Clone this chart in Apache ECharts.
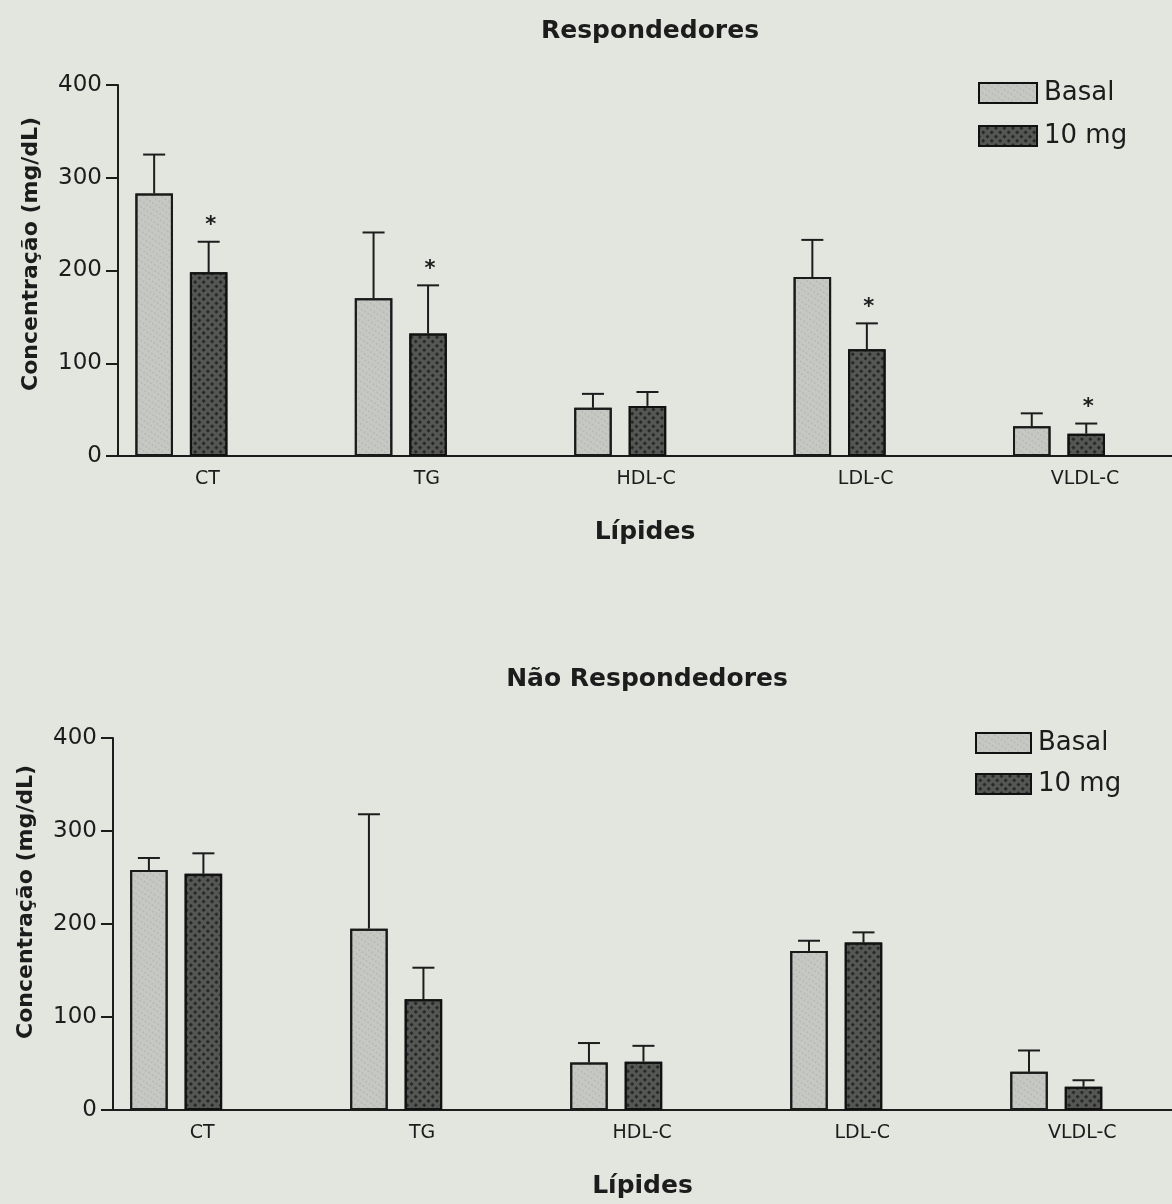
<!DOCTYPE html>
<html>
<head>
<meta charset="utf-8">
<script src="https://cdn.jsdelivr.net/npm/echarts@6/dist/echarts.min.js"></script>
<style>
html,body{margin:0;padding:0;background:#e3e5df;}
#chart{width:1172px;height:1204px;}
</style>
</head>
<body>
<div id="chart"></div>
<script>
// ---- data ----
const categories = ['CT', 'TG', 'HDL-C', 'LDL-C', 'VLDL-C'];
const seriesNames = ['Basal', '10 mg'];
const yTicks = [0, 100, 200, 300, 400];

// Respondedores
const respBasal = [283, 170, 52, 193, 32];
const respBasalSD = [42, 71, 15, 40, 14];
const resp10 = [198, 132, 54, 115, 24];
const resp10SD = [33, 52, 15, 28, 11];
const respSig10 = ['*', '*', '', '*', '*'];

// Não Respondedores
const naoBasal = [258, 195, 51, 171, 41];
const naoBasalSD = [13, 123, 21, 11, 23];
const nao10 = [254, 119, 52, 180, 25];
const nao10SD = [22, 34, 17, 11, 7];
const naoSig10 = ['', '', '', '', ''];

// ---- style ----
const FONT = 'DejaVu Sans';
const INK = '#1c1c1c';
const BAR_W = 37.5;
const GAP_PX = 17;
const HALF = (BAR_W + GAP_PX) / 2;

const basalStyle = {
  color: '#c6c8c3', borderColor: '#1a1a1a', borderWidth: 2,
  decal: { symbol: 'circle', symbolSize: 0.6, dashArrayX: [2, 2], dashArrayY: [2, 3], color: 'rgba(95,95,95,0.5)', rotation: 0.6 }
};
const tenStyle = {
  color: '#555754', borderColor: '#111', borderWidth: 2,
  decal: { symbol: 'rect', symbolSize: 0.9, dashArrayX: [3, 3], dashArrayY: [3, 3], color: 'rgba(20,20,20,0.8)', rotation: Math.PI / 4 }
};

function toPairs(vals) { return vals.map((v, i) => [i, v]); }
function toErr(vals, sd, sig) { return vals.map((v, i) => [i, v, v + sd[i], sig ? sig[i] : '']); }

function errSeries(name, gridIdx, vals, sd, sig, side) {
  return {
    type: 'custom', name: name + ' err', xAxisIndex: gridIdx, yAxisIndex: gridIdx,
    silent: true, z: 5,
    data: toErr(vals, sd, sig),
    renderItem: function (params, api) {
      const i = api.value(0);
      const p0 = api.coord([i, api.value(1)]);
      const p1 = api.coord([i, api.value(2)]);
      const cx = p0[0] + side * HALF;
      const children = [
        { type: 'line', shape: { x1: cx, y1: p0[1], x2: cx, y2: p1[1] }, style: { stroke: INK, lineWidth: 2 } },
        { type: 'line', shape: { x1: cx - 11, y1: p1[1], x2: cx + 11, y2: p1[1] }, style: { stroke: INK, lineWidth: 2 } }
      ];
      const s = api.value(3);
      if (s && s !== '-') {
        children.push({ type: 'text', style: { text: s, x: cx + 2, y: p1[1] - 16, align: 'center', verticalAlign: 'middle', font: 'bold 21px "' + FONT + '"', fill: INK } });
      }
      return { type: 'group', children: children };
    }
  };
}

function xAxisCfg(gridIdx, min, max) {
  return {
    gridIndex: gridIdx, type: 'value', min: min, max: max,
    name: 'Lípides', nameLocation: 'middle', nameGap: 64,
    nameTextStyle: { fontFamily: FONT, fontWeight: 'bold', fontSize: 25, color: INK },
    axisLine: { show: true, onZero: false, lineStyle: { color: INK, width: 2 } },
    axisTick: { show: false }, splitLine: { show: false },
    axisLabel: {
      customValues: categories.map((c, i) => i),
      formatter: v => categories[Math.round(v)] || '',
      fontFamily: FONT, fontSize: 19, color: INK, margin: 14, padding: [0, 0, 0, 52]
    }
  };
}
function yAxisCfg(gridIdx, namePad) {
  return {
    gridIndex: gridIdx, type: 'value', min: yTicks[0], max: yTicks[yTicks.length - 1], interval: 100,
    name: 'Concentração (mg/dL)', nameLocation: 'middle', nameGap: 76,
    nameTextStyle: { fontFamily: FONT, fontWeight: 'bold', fontSize: 22, color: INK, padding: [0, 0, 0, namePad] },
    axisLine: { show: true, onZero: false, lineStyle: { color: INK, width: 2 } },
    axisTick: { show: true, length: 12, lineStyle: { color: INK, width: 2 } },
    splitLine: { show: false },
    axisLabel: { fontFamily: FONT, fontSize: 23, color: INK, margin: 16 }
  };
}
function barSeries(name, gridIdx, vals, style) {
  return {
    type: 'bar', name: name, xAxisIndex: gridIdx, yAxisIndex: gridIdx,
    data: toPairs(vals), barWidth: BAR_W, barGap: (GAP_PX / BAR_W * 100).toFixed(1) + '%',
    itemStyle: style, silent: true, z: 3
  };
}

const legendText = { fontFamily: FONT, fontSize: 26, color: INK, padding: [0, 0, 0, 2] };
const option = {
  backgroundColor: '#e3e5df',
  animation: false,
  title: [
    { text: 'Respondedores', left: 645, top: 14, textAlign: 'center', textStyle: { fontFamily: FONT, fontWeight: 'bold', fontSize: 25, color: INK } },
    { text: 'Não Respondedores', left: 642, top: 662, textAlign: 'center', textStyle: { fontFamily: FONT, fontWeight: 'bold', fontSize: 25, color: INK } }
  ],
  legend: [
    { data: seriesNames.map(n => ({ name: n, icon: 'rect' })), orient: 'vertical', left: 973, top: 75, itemWidth: 58, itemHeight: 20, itemGap: 17,
      itemStyle: { borderColor: '#111', borderWidth: 2 }, textStyle: legendText, selectedMode: false },
    { data: seriesNames.map(n => ({ name: n, icon: 'rect' })), orient: 'vertical', left: 970, top: 725, itemWidth: 55, itemHeight: 20, itemGap: 15,
      itemStyle: { borderColor: '#111', borderWidth: 2 }, textStyle: legendText, selectedMode: false }
  ],
  grid: [
    { left: 118, right: 0, top: 85, height: 371 },
    { left: 113, right: 0, top: 738, height: 372 }
  ],
  xAxis: [xAxisCfg(0, -0.289, 4.515), xAxisCfg(1, -0.287, 4.526)],
  yAxis: [yAxisCfg(0, 33), yAxisCfg(1, 44)],
  series: [
    barSeries(seriesNames[0], 0, respBasal, basalStyle),
    barSeries(seriesNames[1], 0, resp10, tenStyle),
    errSeries('Basal', 0, respBasal, respBasalSD, null, -1),
    errSeries('10 mg', 0, resp10, resp10SD, respSig10, 1),
    barSeries(seriesNames[0], 1, naoBasal, basalStyle),
    barSeries(seriesNames[1], 1, nao10, tenStyle),
    errSeries('Basal', 1, naoBasal, naoBasalSD, null, -1),
    errSeries('10 mg', 1, nao10, nao10SD, naoSig10, 1)
  ]
};
const chart = echarts.init(document.getElementById('chart'), null, { renderer: 'canvas' });
chart.setOption(option);
</script>
</body>
</html>
